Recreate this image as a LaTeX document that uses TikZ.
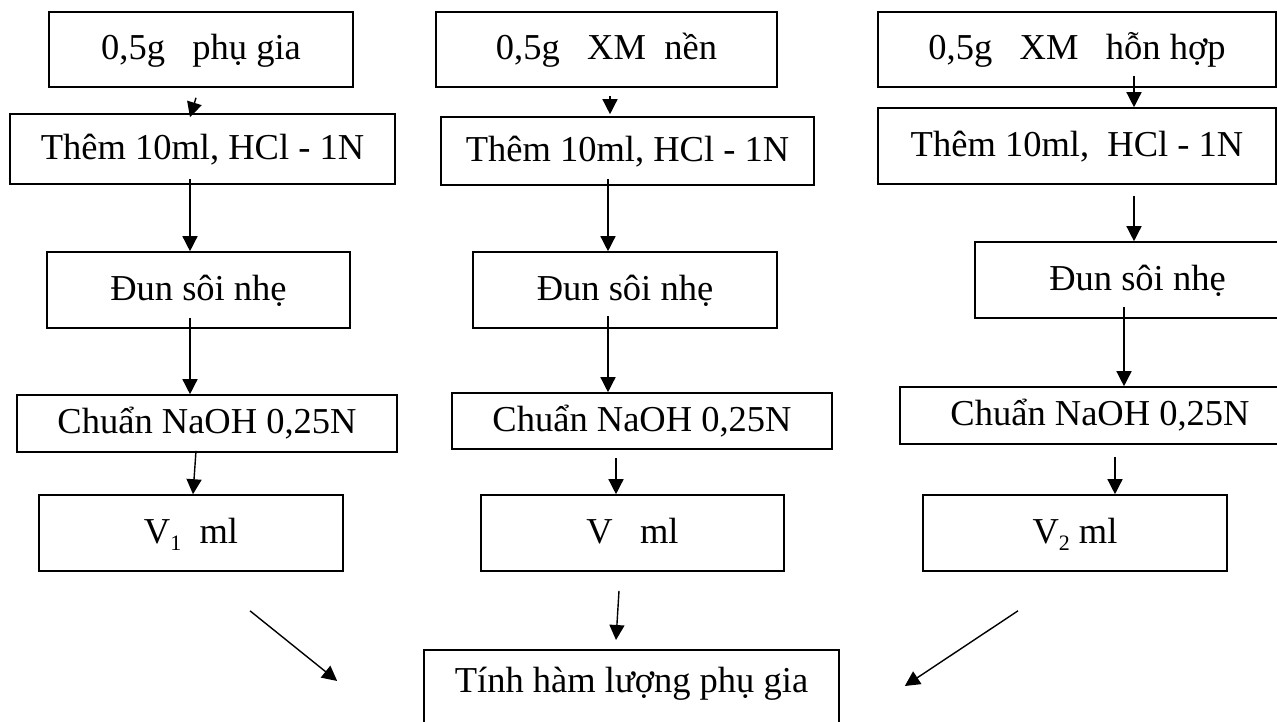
\documentclass[tikz,border=0pt]{standalone}
\usepackage{fontspec}
\setmainfont{Liberation Serif}
\usepackage{tikz}
\usetikzlibrary{calc}
\usetikzlibrary{arrows.meta}
\usetikzlibrary{positioning}
\tikzset{>=latex}
\tikzstyle{box} = [rectangle, draw = black, line width = 1.6pt, inner sep = 0, text height = 28pt, text depth = 8pt, font = \fontsize{36.5}{40}\selectfont]
\tikzstyle{flow} = [-{Triangle[length=15pt, width=15pt]}, line width = 1.4pt, draw = black]
\newcommand{\lowidx}[1]{\raisebox{-7pt}{\fontsize{22}{22}\selectfont #1}}

\begin{document}
\begin{tikzpicture}[x = 1pt, y = -1pt]
\useasboundingbox (0, 0) rectangle (1277, 721);
% column 1
\node [box, minimum width = 304, minimum height = 75] (a1) at (201, 49.5) {0,5g\ \ \ phụ gia\hspace{24pt}};
\node [box, minimum width = 385, minimum height = 70] (b1) at (202.5, 149) {Thêm 10ml, HCl - 1N};
\node [box, minimum width = 303, minimum height = 76] (c1) at (198.5, 290) {Đun sôi nhẹ};
\node [box, minimum width = 380, minimum height = 57] (d1) at (207, 423.5) {Chuẩn NaOH 0,25N};
\node [box, minimum width = 304, minimum height = 76] (e1) at (191, 533) {V\lowidx{1}\ \ ml\hspace{36pt}};
% column 2
\node [box, minimum width = 341, minimum height = 75] (a2) at (606.5, 49.5) {0,5g\ \ \ XM\ \ nền\hspace{19pt}};
\node [box, minimum width = 373, minimum height = 68] (b2) at (627.5, 151) {Thêm 10ml, HCl - 1N};
\node [box, minimum width = 304, minimum height = 76] (c2) at (625, 290) {Đun sôi nhẹ};
\node [box, minimum width = 380, minimum height = 56] (d2) at (642, 421) {Chuẩn NaOH 0,25N\hspace{38pt}};
\node [box, minimum width = 303, minimum height = 76] (e2) at (632.5, 533) {V\ \ \ ml\hspace{29pt}};
% column 3
\node [box, minimum width = 398, minimum height = 75] (a3) at (1077, 49.5) {0,5g\ \ \ XM\ \ \ hỗn hợp\hspace{18pt}};
\node [box, minimum width = 398, minimum height = 76] (b3) at (1077, 146) {Thêm 10ml,\ \ HCl - 1N\hspace{24pt}};
\node [box, minimum width = 325, minimum height = 76] (c3) at (1137.5, 280) {Đun sôi nhẹ\hspace{67pt}};
\node [box, minimum width = 400, minimum height = 57] (d3) at (1100, 415.5) {Chuẩn NaOH 0,25N\hspace{22pt}};
\node [box, minimum width = 304, minimum height = 76] (e3) at (1075, 533) {V\lowidx{2} ml};
% result
\node [box, anchor = north, minimum width = 415, text height = 43pt, text depth = 50pt] (f) at (631.5, 649) {Tính hàm lượng phụ gia\hspace{21pt}};

\draw [flow] ($(a1.south)+(-5,10)$) -- ($(b1.north)+(-12.5,4)$);
\draw [flow] ($(b1.south)+(-12.5,-6)$) -- ($(c1.north)+(-8.5,0)$);
\draw [flow] ($(c1.south)+(-8.5,-11)$) -- ($(d1.north)+(-17,0)$);
\draw [flow] ($(d1.south)+(-11,-2)$) -- ($(e1.north)+(2,0)$);
\draw [flow] ($(a2.south)+(3.5,8)$) -- ($(b2.north)+(-17.5,-2)$);
\draw [flow] ($(b2.south)+(-19.5,-7)$) -- ($(c2.north)+(-17,0)$);
\draw [flow] ($(c2.south)+(-17,-13)$) -- ($(d2.north)+(-34,0)$);
\draw [flow] ($(d2.south)+(-26,8)$) -- ($(e2.north)+(-16.5,0)$);
\draw [flow] ($(a3.south)+(57,-12)$) -- ($(b3.north)+(57,0)$);
\draw [flow] ($(b3.south)+(57,11)$) -- ($(c3.north)+(-3.5,0)$);
\draw [flow] ($(c3.south)+(-13.5,-12)$) -- ($(d3.north)+(24,0)$);
\draw [flow] ($(d3.south)+(15,12)$) -- ($(e3.north)+(40,0)$);
\draw [flow] ($(e1.south)+(59,39)$) -- ($(f.north west)+(-86,32)$);
\draw [flow] ($(e2.south)+(-13.5,19)$) -- ($(f.north)+(-15.5,-9)$);
\draw [flow] ($(e3.south)+(-57,39)$) -- ($(f.north east)+(65,37)$);
\end{tikzpicture}
\end{document}
